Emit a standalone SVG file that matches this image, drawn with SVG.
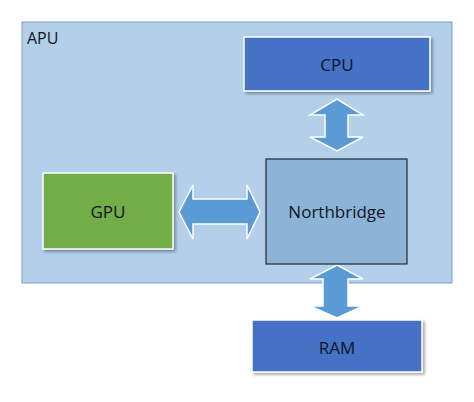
<svg xmlns="http://www.w3.org/2000/svg" width="474" height="402" viewBox="0 0 474 402">
<defs>
<filter id="sh" x="-10%" y="-10%" width="130%" height="140%">
<feDropShadow dx="2" dy="2" stdDeviation="1.5" flood-color="#000" flood-opacity="0.35"/>
</filter>
<style>
text{font-family:"Open Sans","Liberation Sans",sans-serif;font-size:17px;fill:#0f1626}
.lbl{text-anchor:middle;dominant-baseline:central}
.blue{fill:#4472c4;stroke:#ffffff;stroke-width:1.5}
.arrow{fill:#5b9bd5;stroke:#ffffff;stroke-width:1.5;stroke-linejoin:miter}
</style>
</defs>
<rect width="474" height="402" fill="#ffffff"/>
<g id="apu">
<rect x="22" y="22" width="430" height="261" fill="#b3cfe9" stroke="#7d9fc2" stroke-width="1"/>
<text x="27" y="44" style="font-size:16px">APU</text>
</g>
<g id="connectors">
<polygon class="arrow" points="337,99 363,115 348,115 348,137 363,137 337,151 310,137 325,137 325,115 310,115"/>
<polygon class="arrow" points="179,212 193,185 193,199 247,199 247,185 260,212 247,239 247,224 193,224 193,239"/>
<polygon class="arrow" points="337,265 363,279 348,279 348,306 363,306 337,318 310,306 323,306 323,279 310,279"/>
</g>
<g id="cpu">
<rect class="blue" x="244" y="37" width="186" height="54" filter="url(#sh)"/>
<text class="lbl" x="337" y="64">CPU</text>
</g>
<g id="gpu">
<rect x="43" y="173" width="130" height="76" fill="#72ad47" stroke="#ffffff" stroke-width="1.5" filter="url(#sh)"/>
<text class="lbl" x="108" y="211">GPU</text>
</g>
<g id="northbridge">
<rect x="266" y="159" width="141" height="105" fill="#8db4d6" stroke="#1f2937" stroke-width="1.2"/>
<text class="lbl" x="337" y="211">Northbridge</text>
</g>
<g id="ram">
<rect class="blue" x="252" y="320" width="170" height="52" filter="url(#sh)"/>
<text class="lbl" x="337" y="347">RAM</text>
</g>
</svg>
